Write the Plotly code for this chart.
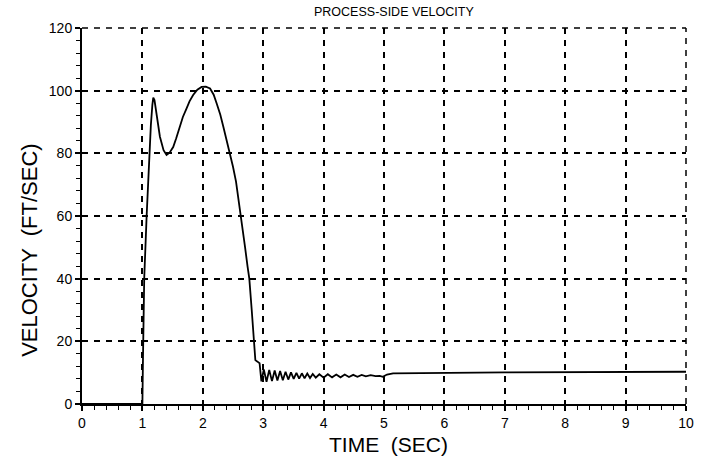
import plotly.graph_objects as go

time_sec = [
    0.0, 1.0, 1.01, 1.03, 1.07, 1.11, 1.14, 1.165, 1.18, 1.20,
    1.24, 1.29, 1.35, 1.40, 1.45, 1.51, 1.56, 1.62, 1.67, 1.73, 1.78, 1.84,
    1.91, 1.98, 2.05, 2.12, 2.18, 2.23, 2.29, 2.34,
    2.40, 2.45, 2.50, 2.55, 2.59, 2.63, 2.67, 2.70, 2.74, 2.77, 2.81, 2.84,
    2.855, 2.87, 2.90, 2.94,
    2.97, 3.01, 3.055, 3.10, 3.145, 3.19, 3.235, 3.28, 3.325, 3.37, 3.415,
    3.46, 3.505, 3.55, 3.595, 3.64, 3.685, 3.73, 3.775, 3.82, 3.87, 3.93,
    4.00, 4.07, 4.14, 4.21, 4.28, 4.35, 4.42, 4.49, 4.56, 4.63, 4.70, 4.78,
    4.86, 4.93, 4.98, 5.05, 5.15, 5.5, 7.0, 10.0,
]
velocity_fps = [
    0.0, 0.0, 15.0, 40.0, 60.0, 80.0, 89.0, 95.5, 97.8, 97.0,
    91.6, 85.3, 81.0, 79.5, 80.2, 82.0, 84.8, 88.5, 91.6, 94.3, 96.6, 98.6,
    100.3, 101.2, 101.3, 100.7, 98.7, 95.9, 92.3, 88.5,
    84.0, 80.0, 75.7, 71.0, 65.8, 60.0, 54.5, 50.0, 44.0, 40.0, 30.0, 20.0,
    15.0, 14.0, 13.6, 13.0,
    7.2, 11.0, 7.1, 10.9, 7.3, 10.7, 7.5, 10.5, 7.6, 10.3, 7.8,
    10.1, 8.0, 9.9, 8.1, 9.8, 8.2, 9.7, 8.3, 9.6, 8.4, 9.5,
    8.4, 9.5, 8.5, 9.4, 8.5, 9.4, 8.6, 9.3, 8.7, 9.3, 8.8, 9.2,
    8.9, 9.0, 8.7, 9.4, 9.8, 9.9, 10.1, 10.3,
]

x_ticks = [0, 1, 2, 3, 4, 5, 6, 7, 8, 9, 10]
y_ticks = [0, 20, 40, 60, 80, 100, 120]
x_minor_step = 0.2
y_minor_step = 4

title_text = "PROCESS-SIDE VELOCITY"
x_title = "TIME  (SEC)"
y_title = "VELOCITY  (FT/SEC)"

FONT = "Liberation Sans, Arial, sans-serif"

fig = go.Figure()
fig.add_trace(go.Scatter(
    x=time_sec, y=velocity_fps, mode="lines",
    line=dict(color="black", width=1.8),
    showlegend=False, hoverinfo="skip",
))

axis_common = dict(
    showline=True, linecolor="black", linewidth=2,
    showgrid=True, gridcolor="black", gridwidth=1.5, griddash="6px,6px",
    ticks="outside", ticklen=5, tickwidth=1.6, tickcolor="black",
    zeroline=False, mirror=False, tickmode="linear",
    tickfont=dict(family=FONT, size=14, color="black"),
)

fig.update_layout(
    xaxis=dict(
        **axis_common, range=[x_ticks[0], x_ticks[-1]], tick0=x_ticks[0], dtick=x_ticks[1] - x_ticks[0],
        minor=dict(tickmode="linear", tick0=x_ticks[0], dtick=x_minor_step, ticks="outside",
                   ticklen=4, tickwidth=1.4, tickcolor="black", showgrid=False),
    ),
    yaxis=dict(
        **axis_common, range=[y_ticks[0], y_ticks[-1]], tick0=y_ticks[0], dtick=y_ticks[1] - y_ticks[0],
        minor=dict(tickmode="linear", tick0=y_ticks[0], dtick=y_minor_step, ticks="outside",
                   ticklen=4, tickwidth=1.4, tickcolor="black", showgrid=False),
    ),
)

# dashed top and right frame edges (grid lines at the range ends)
fig.add_shape(type="line", xref="paper", yref="paper", x0=0, x1=1, y0=1, y1=1,
              line=dict(color="black", width=1.5, dash="6px,6px"))
fig.add_shape(type="line", xref="paper", yref="paper", x0=1, x1=1, y0=0, y1=1,
              line=dict(color="black", width=1.5, dash="6px,6px"))

fig.add_annotation(
    text=title_text, xref="paper", yref="paper", x=0.517, y=1.0,
    yshift=16, showarrow=False, xanchor="center", yanchor="middle",
    font=dict(family=FONT, size=12.5, color="black"),
)
fig.add_annotation(
    text=x_title, xref="paper", yref="paper", x=0.508, y=0.0,
    yshift=-40, showarrow=False, xanchor="center", yanchor="middle",
    font=dict(family=FONT, size=21, color="black"),
)
fig.add_annotation(
    text=y_title, xref="paper", yref="paper", x=0.0, y=0.41,
    xshift=-52, textangle=-90, showarrow=False, xanchor="center", yanchor="middle",
    font=dict(family=FONT, size=22, color="black"),
)

fig.update_layout(
    width=710, height=456,
    margin=dict(l=82, r=24, t=28, b=52),
    paper_bgcolor="white", plot_bgcolor="white",
)

fig.write_html("out.html")
